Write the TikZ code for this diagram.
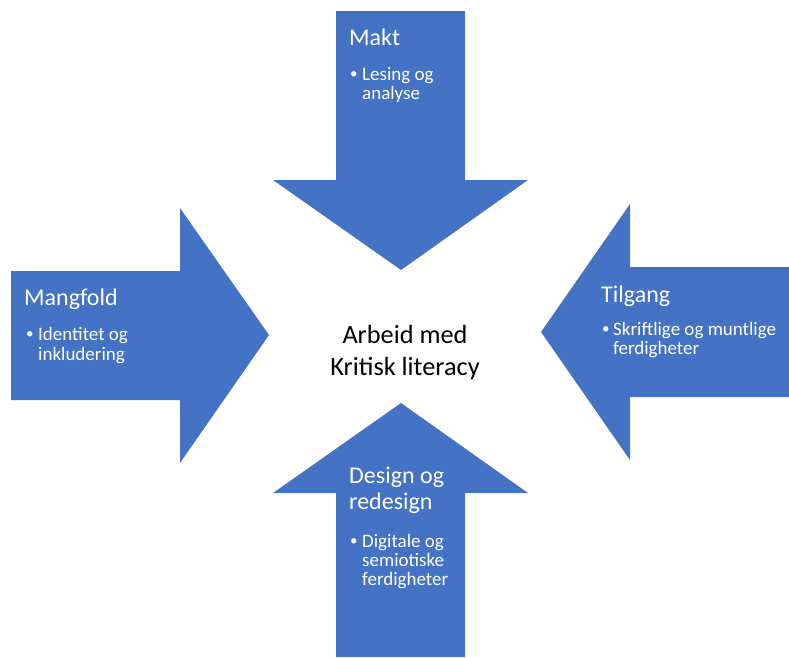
\documentclass[tikz,border=0pt]{standalone}
\usepackage{fontspec}
\setmainfont{Carlito}
\definecolor{arrowblue}{HTML}{4472C4}
\begin{document}
\begin{tikzpicture}[x=1pt,y=-1pt,
  arrowshape/.style={fill=arrowblue, draw=none},
  titletext/.style={text=white, font=\fontsize{24}{29}\selectfont, anchor=base west, inner sep=0pt},
  itemtext/.style={text=white, font=\fontsize{19}{20}\selectfont, anchor=base west, inner sep=0pt},
  bullettext/.style={text=white, font=\fontsize{15}{18}\selectfont, anchor=base west, inner sep=0pt},
  centretext/.style={text=black, font=\fontsize{26.3}{31}\selectfont, anchor=base, inner sep=0pt}]
\useasboundingbox (0,0) rectangle (789,657);
% arrows
\path[arrowshape] (336,11) -- (465,11) -- (465,180) -- (528,180) -- (401,270) -- (273,180) -- (336,180) -- cycle;
\path[arrowshape] (11,271) -- (180,271) -- (180,208) -- (269,335) -- (180,463) -- (180,400) -- (11,400) -- cycle;
\path[arrowshape] (789,267) -- (630,267) -- (630,204) -- (541,332) -- (630,460) -- (630,397) -- (789,397) -- cycle;
\path[arrowshape] (336,657) -- (336,493) -- (273,493) -- (401,403) -- (528,493) -- (465,493) -- (465,657) -- cycle;
% top: Makt
\node[titletext] (makt) at (349,45) {Makt};
\node[bullettext] (maktb) at (350,78) {\textbullet};
\node[itemtext] (makt1) at (362,80) {Lesing og};
\node[itemtext] (makt2) at (362,99) {analyse};
% left: Mangfold
\node[titletext] (mangfold) at (24,305) {Mangfold};
\node[bullettext] (mangb) at (26,338) {\textbullet};
\node[itemtext] (mang1) at (38,340) {Identitet og};
\node[itemtext] (mang2) at (38,360) {inkludering};
% right: Tilgang
\node[titletext] (tilgang) at (601,302) {Tilgang};
\node[bullettext] (tilb) at (602,333) {\textbullet};
\node[itemtext] (til1) at (613,335) {Skriftlige og muntlige};
\node[itemtext] (til2) at (613,354) {ferdigheter};
% bottom: Design og redesign
\node[titletext] (design1) at (349,483) {Design og};
\node[titletext] (design2) at (349,509) {redesign};
\node[bullettext] (desb) at (350,545) {\textbullet};
\node[itemtext] (des1) at (362,547) {Digitale og};
\node[itemtext] (des2) at (362,566) {semiotiske};
\node[itemtext] (des3) at (362,585) {ferdigheter};
% centre
\node[centretext] (c1) at (405,343) {Arbeid med};
\node[centretext] (c2) at (405,375) {Kritisk literacy};
\end{tikzpicture}
\end{document}
